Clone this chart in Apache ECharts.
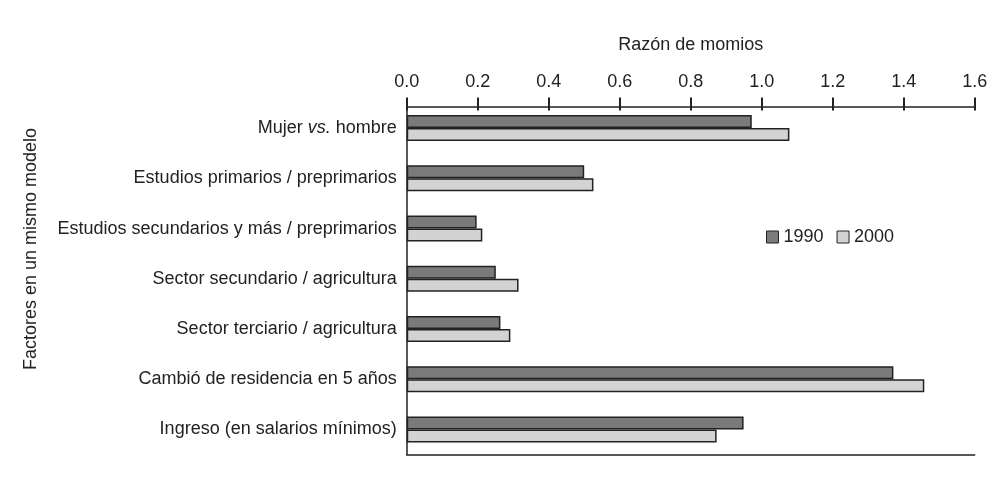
<!DOCTYPE html>
<html>
<head>
<meta charset="utf-8">
<script src="https://cdn.jsdelivr.net/npm/echarts@6/dist/echarts.min.js"></script>
<style>html,body{margin:0;padding:0;background:#fff}#c{width:997px;height:482px}</style>
</head>
<body>
<div id="c"></div>
<script>
const categories = [
  'Mujer vs. hombre',
  'Estudios primarios / preprimarios',
  'Estudios secundarios y más / preprimarios',
  'Sector secundario / agricultura',
  'Sector terciario / agricultura',
  'Cambió de residencia en 5 años',
  'Ingreso (en salarios mínimos)'
];
const values1990 = [0.972, 0.500, 0.197, 0.251, 0.264, 1.371, 0.949];
const values2000 = [1.078, 0.526, 0.213, 0.315, 0.292, 1.458, 0.873];
const xTicks = [0, 0.2, 0.4, 0.6, 0.8, 1.0, 1.2, 1.4, 1.6];

const chart = echarts.init(document.getElementById('c'));
const font = 'Liberation Sans, Arial, sans-serif';
const ink = '#222';
const fs = 18;
chart.setOption({
  animation: false,
  textStyle: { fontFamily: font, color: ink },
  grid: { left: 406.7, right: 22.3, top: 103, bottom: 27.5, containLabel: false },
  legend: {
    data: ['1990', '2000'],
    left: 761, top: 223,
    itemWidth: 12, itemHeight: 12, itemGap: 13,
    icon: 'rect',
    textStyle: { fontSize: fs, color: ink, fontFamily: font },
    itemStyle: { borderColor: ink, borderWidth: 1 }
  },
  xAxis: [{
    type: 'value', position: 'top', offset: -3.5,
    min: 0, max: 1.6, interval: 0.2,
    name: 'Razón de momios', nameLocation: 'middle', nameGap: 52,
    nameTextStyle: { fontSize: fs, color: ink, fontFamily: font },
    axisLine: { show: true, lineStyle: { color: ink, width: 1.5 } },
    axisTick: { show: true, length: 9, lineStyle: { color: ink, width: 2 } },
    axisLabel: { fontSize: fs, color: ink, fontFamily: font, margin: 15,
      formatter: v => xTicks.indexOf(Math.round(v * 10) / 10) >= 0 ? v.toFixed(1) : '' },
    splitLine: { show: false }
  }, {
    type: 'value', position: 'top', offset: -3.5,
    min: 0, max: 1.6, interval: 0.2,
    axisLine: { show: false },
    axisTick: { show: true, inside: true, length: 4, lineStyle: { color: ink, width: 2 } },
    axisLabel: { show: false },
    splitLine: { show: false }
  }, {
    type: 'value', position: 'bottom',
    min: 0, max: 1.6, interval: 0.2,
    axisLine: { show: true, lineStyle: { color: ink, width: 1.5 } },
    axisTick: { show: false }, axisLabel: { show: false }, splitLine: { show: false }
  }],
  yAxis: {
    type: 'category', inverse: true, data: categories,
    axisLine: { show: true, lineStyle: { color: ink, width: 1.5 } },
    axisTick: { show: false },
    axisLabel: {
      fontSize: fs, color: ink, fontFamily: font, margin: 10,
      formatter: v => v === 'Mujer vs. hombre' ? '{n|Mujer }{i|vs.}{n| hombre}' : v,
      rich: {
        n: { fontSize: fs, color: ink, fontFamily: font },
        i: { fontSize: fs, color: ink, fontFamily: font, fontStyle: 'italic' }
      }
    }
  },
  graphic: [{
    type: 'text', left: 22, top: 128, rotation: Math.PI / 2,
    style: { text: 'Factores en un mismo modelo', font: fs + 'px ' + font, fill: ink }
  }],
  series: [{
    name: '1990', type: 'bar', data: values1990, barWidth: 13, barGap: '0%',
    itemStyle: { color: '#7a7a7a', borderColor: ink, borderWidth: 1.5 }
  }, {
    name: '2000', type: 'bar', data: values2000, barWidth: 13, barGap: '0%',
    itemStyle: { color: '#d3d3d3', borderColor: ink, borderWidth: 1.5 }
  }]
});
</script>
</body>
</html>
